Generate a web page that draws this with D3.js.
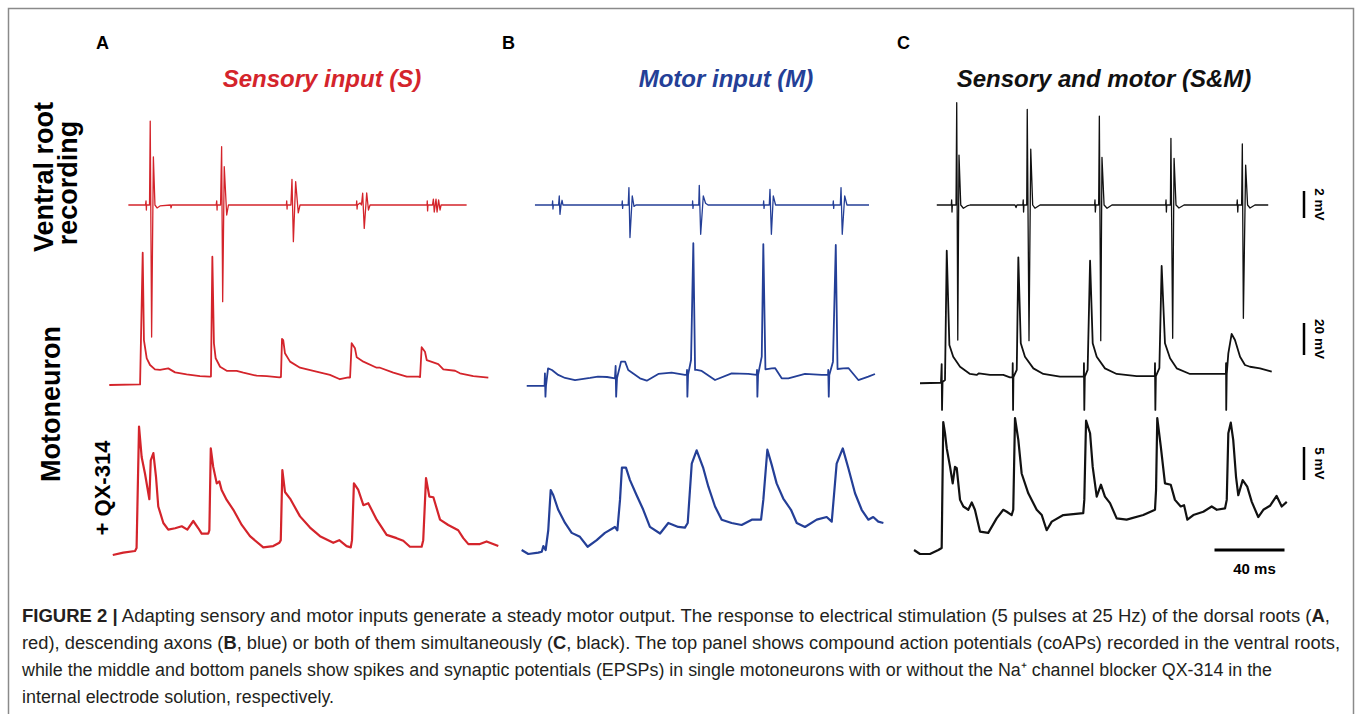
<!DOCTYPE html>
<html>
<head>
<meta charset="utf-8">
<script src="https://cdn.jsdelivr.net/npm/d3@7"></script>
<style>
  body { margin: 0; background: #fff; }
  svg { display: block; }
</style>
</head>
<body>
<svg id="fig"></svg>
<script>
// traces: [time (ms), voltage (mV from baseline)]
const sensTop = [[16.2,0],[26,0],[26.3,0.3],[26.5,-0.37],[26.6,0],[28.3,0],[28.7,6.22],[29.5,-9.78],[30.5,3.56],[31.4,0],[32.6,-0.22],[34.3,-0.07],[40.3,0],[40.6,-0.22],[41,0],
  [66.4,0],[66.7,0.3],[66.9,-0.37],[67,0],[68.9,0],[69.5,4.32],[70.1,-7.16],[71,2.84],[72.4,-0.74],[73.4,0],
  [106.5,0],[106.7,0.3],[106.9,-0.3],[107,0],[109.1,0],[109.7,1.9],[110.5,-2.72],[111.8,1.73],[113.3,-0.59],[114.3,0],
  [146.5,0],[146.7,0.3],[146.9,-0.3],[147.1,0],[148.6,0.15],[149.4,0],[150.1,0.87],[151,-1.73],[152.4,0.89],[153.4,-0.37],[154.3,0],
  [186.9,0],[187,0.3],[187.2,-0.44],[187.4,0],[190,0],[190.5,0.44],[191,-0.52],[192,0.44],[192.6,-0.52],[193.5,0.37],[194.3,-0.37],[194.9,0],[209.5,0]];

const sensMid = [[5.3,0],[22.9,0.4],[24.4,82.7],[25.1,28.1],[26.7,16.7],[28.6,12.5],[31.4,9.8],[34.3,9.4],[39,10.4],[42.9,7.9],[49.5,6.7],[57.1,5.6],[62.5,5.2],
  [63.4,5.3],[64.2,80.2],[65.1,26.1],[66.1,16.7],[68.6,11.4],[72.4,8.9],[78.1,8.8],[81.9,7.7],[89.5,5.8],[95.3,5.6],[102.5,4.8],
  [103.4,5],[104,28.8],[104.7,28.1],[105.7,19.8],[108.6,14.6],[114.3,10.8],[121.9,8.8],[131.4,6.3],[137.1,3.6],[141.9,4.8],
  [142.9,4.7],[143.8,26.1],[145.7,22.9],[146.7,17.3],[150.5,14.6],[158.1,10.8],[160,10.8],[167.6,7.7],[175.3,5.2],[181.9,5.2],
  [182.9,5],[183.8,23.6],[185.7,20.8],[186.7,15.6],[193.3,13.1],[196.2,9.8],[202.9,8.9],[205.7,7.3],[213.3,5.6],[221.9,4.6]];

const sensQX = [[7.3,-0.15],[13.3,0.2],[20,0.45],[20.9,0.9],[22.3,19.3],[23.8,14.7],[25.7,12.2],[28.2,8.3],[29,14.2],[30.5,15.3],[32,11.7],[33.3,7.2],[36.2,4.7],[39,3.7],[42.9,3.9],[46.7,4.2],[49.9,3.7],[53.3,5],[56.2,3.9],[58.1,3.1],[61.9,3.1],
  [62.5,3.6],[63.3,16],[64.7,13.2],[66.7,10.7],[68.2,11],[69.5,9.7],[72.4,8.2],[76.2,6.7],[81,4.4],[85.7,2.7],[93.3,1],[99,1.2],[102.5,1.7],
  [103.3,2.1],[104.2,12.7],[105.7,9.4],[108.6,8.4],[110.9,7.3],[114.3,5.7],[120,4],[125.7,2.7],[133.3,1.7],[136.7,2.1],[140.9,1.2],[143.3,1],
  [144,2.1],[145.1,10.7],[147.6,9.7],[150.5,7.4],[153.3,7.7],[158.1,5.2],[163.8,2.9],[169.5,2.4],[173.3,2],[177.1,1.1],[183.8,1.1],
  [184.7,2.1],[186.3,11.5],[188.2,8.7],[190.5,8.6],[194.3,5.2],[199,4.4],[204.7,3.6],[207.6,2.4],[210.5,1.5],[217.1,1.5],[220.9,1.9],[227.6,1.2]];

const motTop = [[11.4,0],[21.3,0],[21.5,0.3],[21.7,-0.3],[21.9,0],[24.9,0],[25.3,0.67],[25.7,-0.69],[26.3,0],[26.9,0.35],[27.4,0],
  [61.1,0],[61.3,0.3],[61.5,-0.25],[61.7,0],[64.7,0],[65.1,1.29],[65.7,-2.41],[67,0.67],[68,-0.1],[69.1,0],
  [101.4,0],[101.5,0.3],[101.7,-0.25],[101.9,0],[105,0],[105.3,1.46],[106.1,-2.17],[107.6,0.67],[108.9,0.13],[110.3,0],
  [141.9,0],[142.1,0.3],[142.3,-0.25],[142.5,0],[145.3,0],[145.7,1.16],[146.5,-2.17],[147.6,0.67],[148.9,0],[150.3,0],
  [181.7,0],[181.9,0.3],[182.1,-0.25],[182.3,0],[185.9,0],[186.3,1.29],[187,-2.17],[188.4,0.67],[189.7,0],[202.3,0]];

const motMid = [[6.7,-0.6],[16.9,-0.6],[17.1,7.3],[17.4,-7.3],[17.7,-0.6],[18.9,10.4],[21.1,9.4],[24.7,6.3],[28.6,4.4],[34.3,3.1],[42.9,4.4],[47.4,5.2],[52.6,5],[57.1,4.2],
  [57.5,11.9],[57.8,-7.3],[58.3,4.4],[60.6,14.6],[62.9,14.6],[64.7,9.4],[71.4,4.2],[75.3,2.7],[81.9,6.9],[89.5,7.7],[97.1,6.3],
  [98.1,6.3],[98.3,9.4],[98.5,-7.3],[98.9,6.3],[100.6,15.6],[101.9,88.6],[102.9,9.4],[103.8,9.4],[106.7,8.8],[114.3,3.1],[123.8,7.3],[133.3,6.9],
  [138.1,6.3],[138.3,9.4],[138.5,-7.3],[138.9,6.3],[141,17.7],[141.9,88.1],[143.1,9.8],[146.7,10.4],[148.6,10.6],[152.4,4.2],[156.2,4.2],[165.7,6.9],[175.3,6.3],
  [178.9,6.3],[179,9.4],[179.3,-7.3],[179.6,6.3],[181.7,14.6],[183.3,87.5],[184.3,10],[187.6,10.4],[190.5,10.6],[196.2,3.1],[201.9,5.2],[205.7,6.9]];

const motQX = [[3.8,0.6],[7.6,0],[13.3,0.2],[15.3,0.35],[16.2,1.2],[17.5,0.6],[19,3.6],[20.4,9.7],[21.9,8.9],[24.7,6.7],[28.6,4.7],[32.4,3.2],[37.1,2.6],[41.5,1.1],[46.7,2.1],[51.4,3.2],[57.1,4.1],
  [58.5,3.6],[60,8.2],[61.1,13.1],[63.4,13.1],[65.7,11.2],[69.5,8.9],[73.3,6.7],[77.1,4.1],[82.9,3.1],[87.6,4.7],[93.3,4.1],[97.1,4],
  [98.7,4.7],[101,13.7],[103.8,15.7],[107.6,13],[110.5,10.2],[114.3,7.2],[118.1,5.2],[123.8,4.7],[129.5,4.4],[135.3,5.2],[140.6,5.2],
  [141.9,8.2],[144.2,15.8],[146.7,13.5],[149.5,10.7],[153.3,8.4],[157.7,6.7],[161,4.7],[165.7,4.1],[172.4,5.2],[178.1,5.6],[181,4.9],
  [183.8,13.7],[187.3,16],[190.5,13],[194.3,9.2],[198.1,6.7],[201.9,5.2],[204.7,5.6],[207.6,4.9],[210.5,4.7]];

const smTop = [[15.3,0],[23.6,0],[23.8,0.37],[24,-0.52],[24.2,0],[26.3,0],[26.7,7.58],[27.3,-10],[28,3.7],[29,0],[30.5,-0.24],[32.6,-0.07],[34.3,0],
  [60,0],[60.6,-0.19],[61.1,0],[64.5,0],[64.7,0.37],[64.9,-0.52],[65.1,0],[66.7,0],[67,7.09],[68,-10.05],[69,4.13],[70.1,0],[71.4,-0.24],[74.3,0],
  [105.5,0],[105.7,0.37],[105.9,-0.52],[106.2,0],[107.8,0],[108.2,6.59],[109,-10.05],[109.7,3.53],[110.9,0],[112.6,-0.24],[115.4,0],
  [146.1,0],[146.3,0.37],[146.5,-0.52],[146.7,0],[148.8,0],[149.1,4.94],[150.1,-9.87],[150.9,3.46],[152,0],[153.7,-0.22],[156.6,0],
  [186.8,0],[187,0.37],[187.3,-0.52],[187.5,0],[189.5,0],[189.9,4.52],[190.5,-8.39],[191.8,2.96],[192.9,0],[194.3,-0.22],[197.1,0],[204.7,0]];

const smMid = [[5.7,1.1],[17.5,1.4],[17.7,1.4],[18.1,13.1],[18.3,-15.6],[18.6,1.9],[20,3.1],[21,83.9],[22.5,25],[24.7,17.7],[28.6,11.4],[34.3,6.9],[38.1,6.3],[39.4,7.3],[45.7,6.3],[53.3,6.3],[57.1,4.8],
  [58.6,4.8],[58.7,13.6],[58.9,-15.6],[59.1,5],[61,9.4],[61.9,79.8],[63.3,26.1],[65.7,17.7],[70.5,10.4],[76.2,6.9],[85.7,5.2],[97.1,5.2],
  [99.3,5.2],[99.4,13.6],[99.6,-15.6],[99.9,5.2],[101.5,9.4],[102.9,77.7],[104.4,26.1],[106.7,17.7],[111.4,10.4],[118.1,6.9],[129.5,5.6],[139,5.6],
  [139.9,5.6],[140,13.6],[140.2,-15.6],[140.5,5.6],[142.5,10.6],[143.8,74.4],[145.7,26.1],[148.6,16.7],[152.4,10.4],[160,6.9],[171.4,6.9],[180,6.9],
  [180.5,6.9],[180.6,13.6],[180.7,-15.6],[181,6.9],[181.9,19.8],[183.8,31.9],[185.7,28.1],[188.6,17.7],[191.4,12.5],[194.3,11.4],[200,10.4],[206.7,8.3]];

const smQX = [[2.3,0.6],[5.7,0],[11.4,0],[16.2,0.6],[18.1,0.9],[19,20],[20,18.3],[21,16],[22.9,13.2],[24.4,10.7],[25.7,13.2],[26.7,13],[28.6,8.2],[30.5,7.2],[33.3,6.7],[35.3,7.8],[37.1,6.7],[40,3.4],[44.7,3.2],[49.5,5.4],[53.3,6.7],[55.3,6.4],[58.1,5.9],
  [59,6.7],[60,20.6],[61.9,17.3],[63.8,12.2],[67.6,9.2],[72.4,6.7],[75.3,5.9],[78.1,3.6],[81,4.9],[87.6,5.9],[99,6.2],
  [99.6,8.2],[100.6,20.2],[102.9,18.3],[104.4,13.2],[106.7,8.7],[109.1,10.5],[111.4,8.7],[114.3,7.7],[118.1,5.4],[123.8,5.2],[133.3,5.9],[140,6.7],
  [140.6,9.7],[141.3,20.6],[143.3,16.3],[145.7,10.7],[149,10.5],[151.4,8.2],[154.7,7.2],[156.6,7.4],[158.5,5.2],[161.9,5.9],[167.6,6.4],[172.4,7.2],[175.3,6.7],[180,6.9],
  [181,8.2],[181.9,18.3],[183.3,19.9],[184.7,17.3],[186.3,11.7],[187.6,8.9],[190.1,11.2],[192.7,10.2],[195.3,7.9],[199,5.6],[201.9,6.7],[205.7,7.3],[209.5,8.8],[212.4,7.2],[215.3,7.9]];

const panelLetters = ["A", "B", "C"];
const panelTitles = ["Sensory input (S)", "Motor input (M)", "Sensory and motor (S&M)"];
const panelColors = ["#d4242b", "#243f97", "#111111"];
const barMv = [2, 20, 5];          // vertical scale bars, one per row
const barLabels = ["2 mV", "20 mV", "5 mV"];
const timeBarMs = 40;
const timeBarStart = 174;          // ms, in panel C time

// layout
const W = 1358, H = 714;
const panelX = [100, 515, 910];     // x of t = 0 ms in each panel
const pxPer40ms = 70;
const rowBase = [205, 385, 554];    // y of 0 mV in each row
const rowBarPx = [27, 32, 33];      // pixel length of the scale bar in each row
const rowStroke = [1.3, 1.8, 2.2];
const barX = 1304, barTop = [191, 323, 447];

const traces = [
  [sensTop, sensMid, sensQX],
  [motTop, motMid, motQX],
  [smTop, smMid, smQX]
];

const svg = d3.select("#fig").attr("width", W).attr("height", H);
svg.append("rect").attr("width", W).attr("height", H).attr("fill", "#fff");

// outer frame (open at the bottom)
svg.append("path")
  .attr("d", `M8.5,${H + 5}V8.5H1353.5V${H + 5}`)
  .attr("fill", "none").attr("stroke", "#8a8a8a").attr("stroke-width", 1.5);

const font = "'Liberation Sans', Arial, Helvetica, sans-serif";

const yScales = rowBase.map((b, r) =>
  d3.scaleLinear().domain([0, barMv[r]]).range([b, b - rowBarPx[r]]));

panelX.forEach((px, p) => {
  const x = d3.scaleLinear().domain([0, 40]).range([px, px + pxPer40ms]);
  const g = svg.append("g");

  traces[p].forEach((data, r) => {
    const y = yScales[r];
    const line = d3.line().x(d => x(d[0])).y(d => y(d[1]));
    g.append("path")
      .datum(data)
      .attr("d", line)
      .attr("fill", "none")
      .attr("stroke", panelColors[p])
      .attr("stroke-width", rowStroke[r])
      .attr("stroke-linejoin", "round");
  });

  // time scale bar lives in panel C
  if (p === 2) {
    svg.append("line")
      .attr("x1", x(timeBarStart)).attr("x2", x(timeBarStart + timeBarMs))
      .attr("y1", 550).attr("y2", 550)
      .attr("stroke", "#000").attr("stroke-width", 3);
    svg.append("text")
      .attr("x", x(timeBarStart + timeBarMs / 2) + 5).attr("y", 574)
      .attr("text-anchor", "middle")
      .style("font", `bold 15px ${font}`)
      .text(timeBarMs + " ms");
  }
});

// panel letters
const letterX = [96, 502, 897];
panelLetters.forEach((l, i) => {
  svg.append("text").attr("x", letterX[i]).attr("y", 49)
    .style("font", `bold 18px ${font}`).attr("fill", "#000").text(l);
});

// panel titles
const titleX = [322, 726, 1104];
panelTitles.forEach((t, i) => {
  svg.append("text").attr("x", titleX[i]).attr("y", 87)
    .attr("text-anchor", "middle")
    .style("font", `italic bold 24px ${font}`)
    .attr("fill", panelColors[i]).text(t);
});

// row labels
const rowLabels = [
  { t: "Ventral root", x: 53, y: 177, s: 27 },
  { t: "recording", x: 77, y: 183, s: 27 },
  { t: "Motoneuron", x: 60, y: 404, s: 27 },
  { t: "+ QX-314", x: 110, y: 488, s: 22 }
];
rowLabels.forEach(d => {
  svg.append("text")
    .attr("transform", `translate(${d.x},${d.y}) rotate(-90)`)
    .attr("text-anchor", "middle")
    .style("font", `bold ${d.s}px ${font}`)
    .attr("fill", "#000").text(d.t);
});

// vertical scale bars
barMv.forEach((mv, r) => {
  const len = yScales[r](0) - yScales[r](mv);
  svg.append("line")
    .attr("x1", barX).attr("x2", barX)
    .attr("y1", barTop[r]).attr("y2", barTop[r] + len)
    .attr("stroke", "#000").attr("stroke-width", 2.5);
  svg.append("text")
    .attr("transform", `translate(${barX + 11},${barTop[r] + len / 2}) rotate(90)`)
    .attr("text-anchor", "middle")
    .style("font", `bold 13.5px ${font}`)
    .text(barLabels[r]);
});

// caption
const capFont = "'Liberation Sans Narrow', 'Arial Narrow', 'Liberation Sans', sans-serif";
const caption = [
  { y: 622, w: 1308, parts: [["FIGURE 2 |", "b"], [" Adapting sensory and motor inputs generate a steady motor output. The response to electrical stimulation (5 pulses at 25 Hz) of the dorsal roots ("], ["A", "b"], [","]] },
  { y: 649, w: 1318, parts: [["red), descending axons ("], ["B", "b"], [", blue) or both of them simultaneously ("], ["C", "b"], [", black). The top panel shows compound action potentials (coAPs) recorded in the ventral roots,"]] },
  { y: 676, w: 1250, parts: [["while the middle and bottom panels show spikes and synaptic potentials (EPSPs) in single motoneurons with or without the Na\u207A channel blocker QX-314 in the"]] },
  { y: 703, w: 312, parts: [["internal electrode solution, respectively."]] }
];
caption.forEach(line => {
  const t = svg.append("text")
    .attr("x", 22).attr("y", line.y)
    .attr("textLength", line.w).attr("lengthAdjust", "spacingAndGlyphs")
    .style("font", `18px ${capFont}`).attr("fill", "#231f20");
  line.parts.forEach(([s, k]) => {
    const ts = t.append("tspan").text(s);
    if (k === "b") ts.attr("font-weight", "bold");
  });
});
</script>
</body>
</html>
